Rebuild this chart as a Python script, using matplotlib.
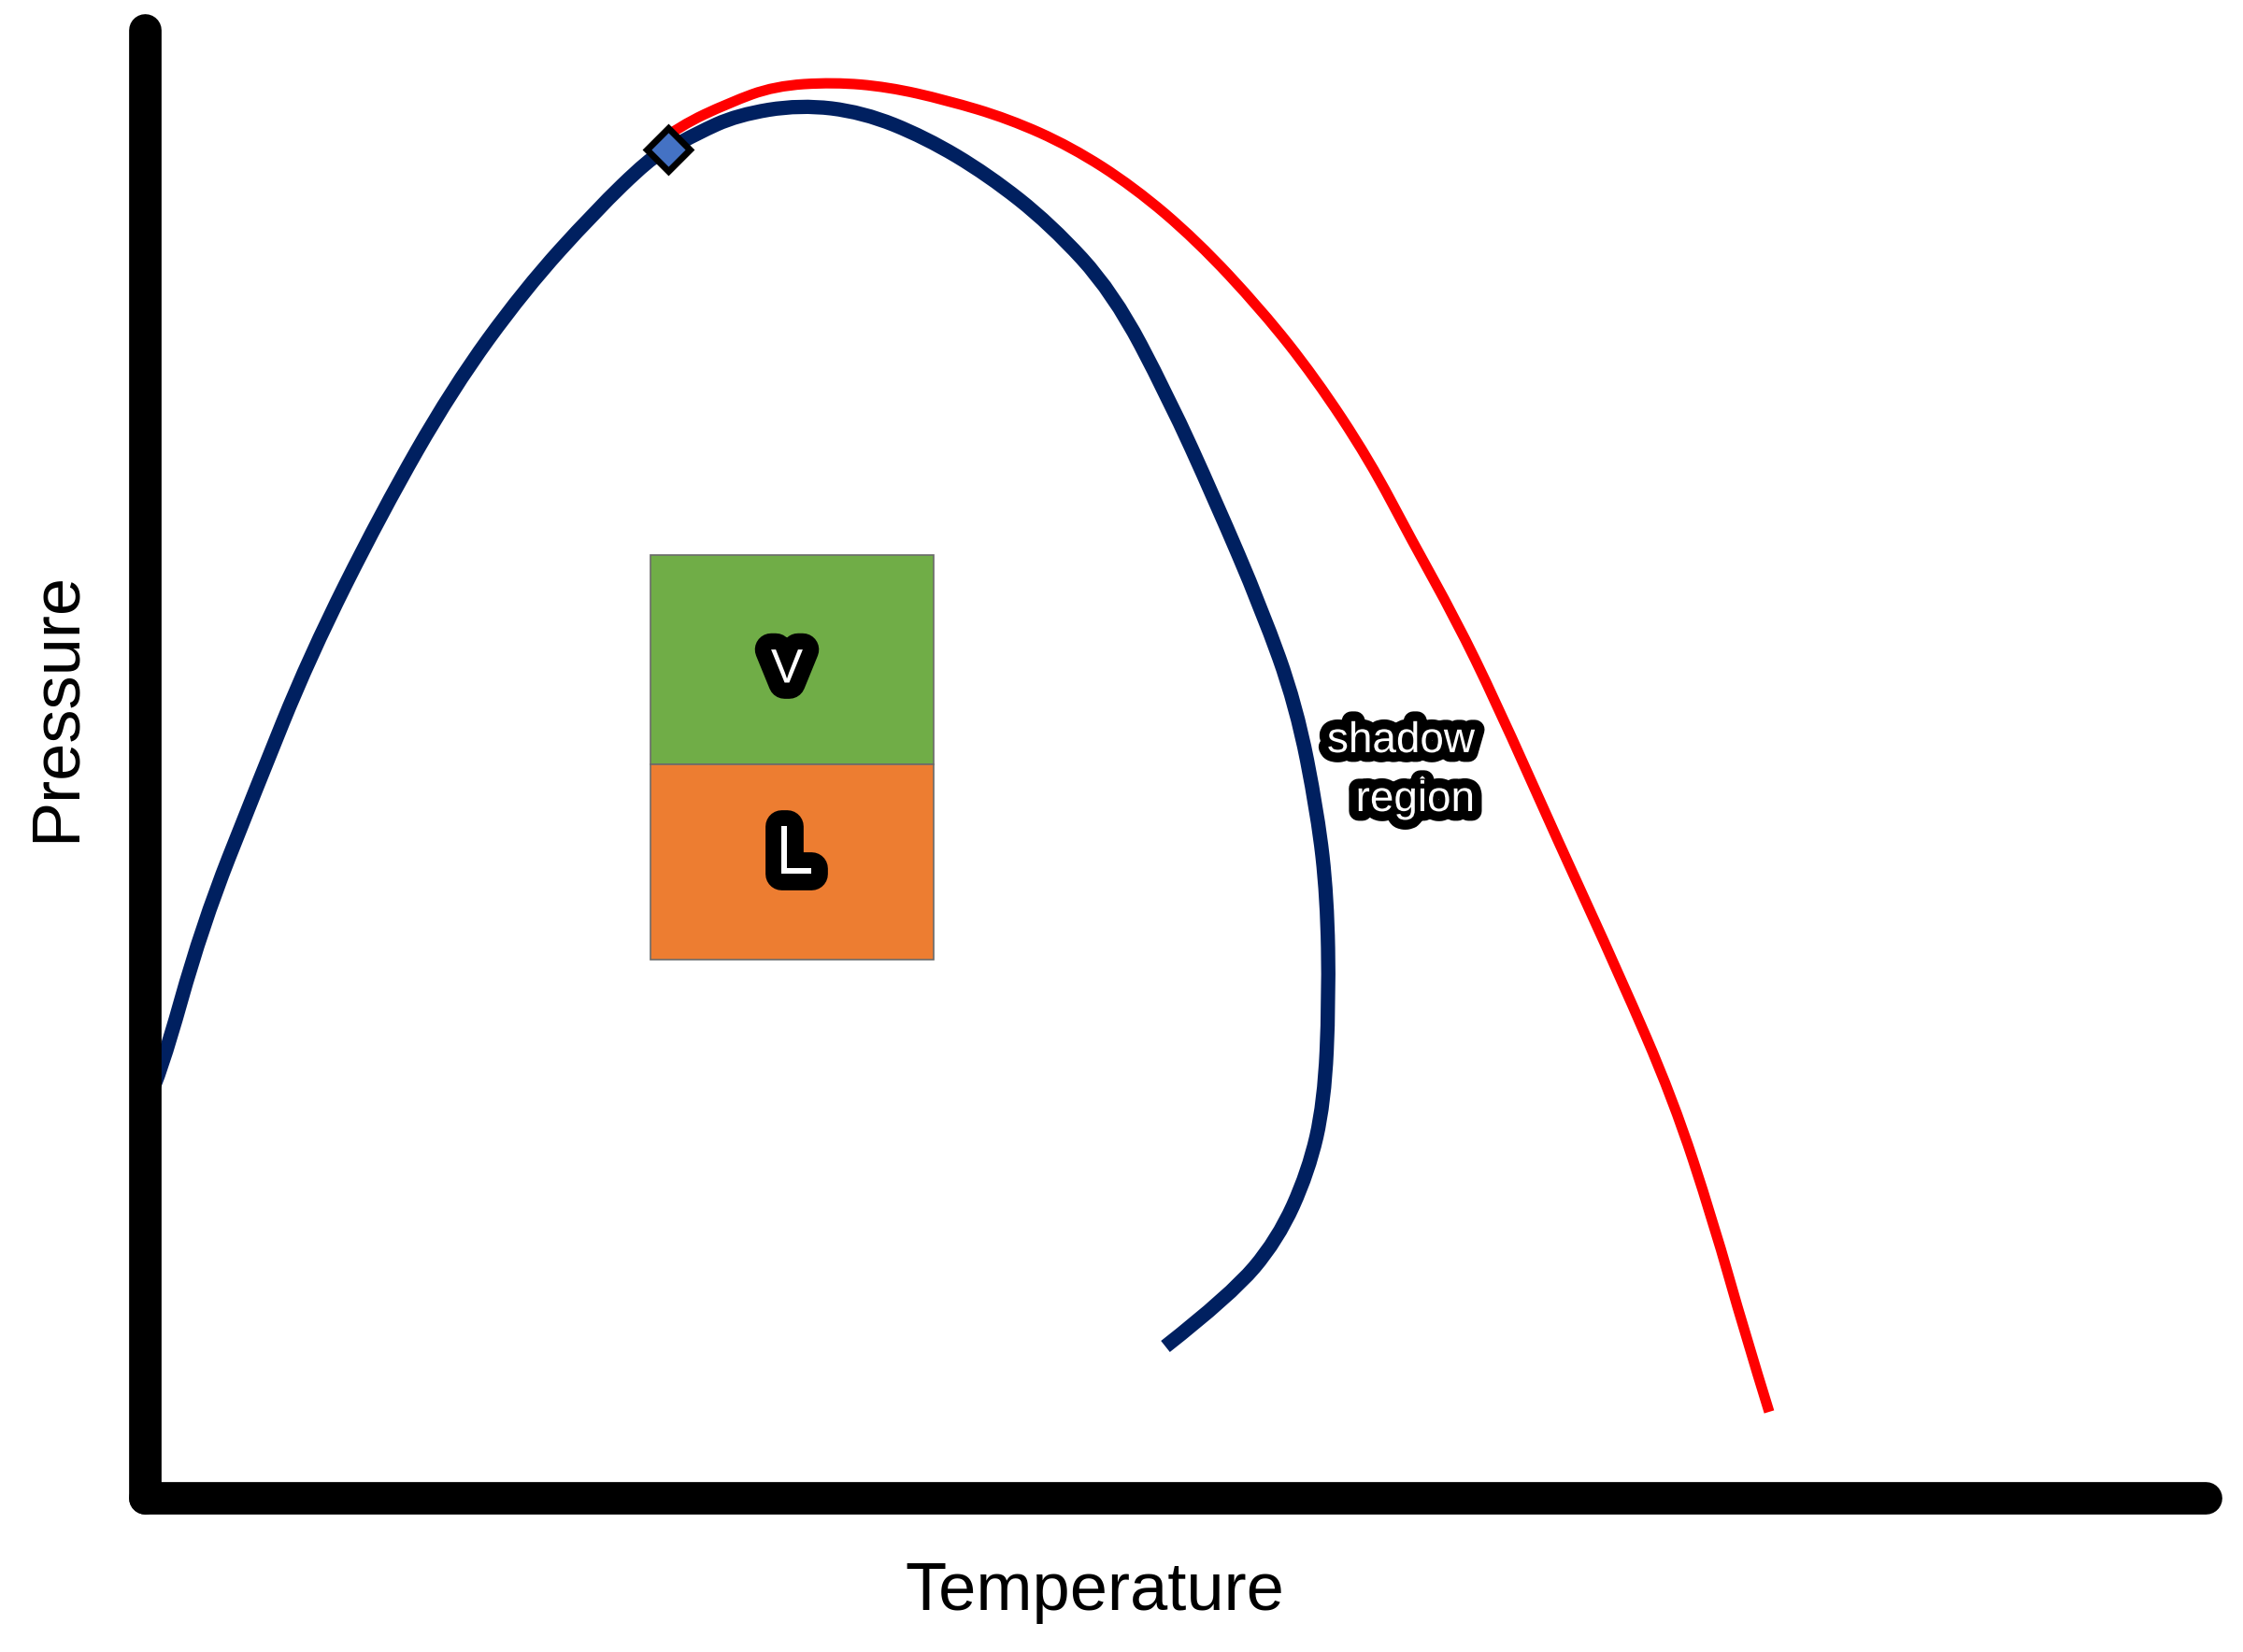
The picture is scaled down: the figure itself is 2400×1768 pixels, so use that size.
import matplotlib
matplotlib.use("Agg")
import matplotlib.pyplot as plt
import matplotlib.patheffects as pe
from matplotlib.path import Path
from matplotlib.patches import PathPatch

# Curves (temperature / pressure in arbitrary units,
# origin at the corner of the axes)
dew_T = [3, 16, 61, 119, 176, 253, 329, 406, 482, 540, 560, 590, 634, 701, 768,
         835, 902, 969, 1036, 1095, 1145, 1195, 1232, 1255, 1265, 1267,
         1262, 1245, 1212, 1162, 1092]
dew_P = [425, 451, 612, 759, 900, 1054, 1187, 1293, 1377, 1433, 1443, 1460, 1480,
         1491, 1483, 1456, 1416, 1363, 1290, 1178, 1068, 951, 848, 731, 643,
         533, 423, 349, 276, 217, 162]

shadow_T = [550, 572, 625, 674, 737, 795, 857, 924, 991, 1058, 1125, 1195, 1252,
            1310, 1356, 1402, 1445, 1512, 1578, 1635, 1678, 1712, 1738]
shadow_P = [1451, 1468, 1493, 1511, 1515, 1510, 1496, 1476, 1446, 1403, 1346, 1271,
            1199, 1111, 1024, 941, 853, 703, 559, 427, 296, 176, 92]

critical_T = [560]
critical_P = [1443]

# V / L phase box
phase_labels = ['V', 'L']
phase_colors = ['#70AD47', '#ED7D31']
phase_bottom = [785, 576]
phase_height = [224, 209]
box_left, box_right = 541, 844
label_T = [687, 695]
label_P = [886, 688]
label_size = [37, 53]

shadow_text = ['shadow', 'region']
shadow_text_P = [798, 735]


def smooth_path(xs, ys):
    # quadratic bezier through the midpoints, read points used as control points
    pts = list(zip(xs, ys))
    verts = [pts[0]]
    codes = [Path.MOVETO]
    n = len(pts)
    for i in range(1, n - 1):
        if i == n - 2:
            end = pts[-1]
        else:
            end = ((pts[i][0] + pts[i + 1][0]) / 2, (pts[i][1] + pts[i + 1][1]) / 2)
        verts += [pts[i], end]
        codes += [Path.CURVE3, Path.CURVE3]
    return Path(verts, codes)


plt.rcParams['font.family'] = ['Liberation Sans', 'DejaVu Sans']

fig = plt.figure(figsize=(24, 17.68), dpi=100)
ax = fig.add_axes([0, 0, 1, 1])
ax.set_xlim(-155, 2245)
ax.set_ylim(-165, 1603)

# axes drawn as heavy rounded black bars
for s in ['top', 'right']:
    ax.spines[s].set_visible(False)
ax.spines['left'].set_position(('data', 0))
ax.spines['bottom'].set_position(('data', 0))
ax.spines['left'].set_bounds(0, 1571)
ax.spines['bottom'].set_bounds(0, 2205)
for s in ['left', 'bottom']:
    ax.spines[s].set_linewidth(25)
    ax.spines[s].set_capstyle('round')
    ax.spines[s].set_zorder(5)
ax.set_xticks([])
ax.set_yticks([])

ax.add_patch(PathPatch(smooth_path(shadow_T, shadow_P), fill=False,
                       edgecolor='#FF0000', lw=8, capstyle='butt',
                       joinstyle='round', zorder=2))
ax.add_patch(PathPatch(smooth_path(dew_T, dew_P), fill=False,
                       edgecolor='#002060', lw=11, capstyle='butt',
                       joinstyle='round', zorder=3))
ax.plot(critical_T, critical_P, marker='D', ms=23.5, mfc='#4472C4', mec='black',
        mew=5, ls='none', zorder=4)

ax.bar([(box_left + box_right) / 2] * 2, phase_height, bottom=phase_bottom,
       width=box_right - box_left, color=phase_colors, edgecolor='#6b6b6b',
       linewidth=1.2, zorder=3)

for lab, t, p, fs in zip(phase_labels, label_T, label_P, label_size):
    ax.text(t, p, lab, fontsize=fs, color='white', ha='center', va='center', zorder=6,
            path_effects=[pe.Stroke(linewidth=25, foreground='black',
                                    joinstyle='round', capstyle='round'),
                          pe.Normal()])

for txt, p in zip(shadow_text, shadow_text_P):
    ax.text(1423, p, txt, fontsize=33, color='white', ha='right', va='baseline',
            zorder=6,
            path_effects=[pe.Stroke(linewidth=15, foreground='black',
                                    joinstyle='round', capstyle='round'),
                          pe.Normal()])

ax.text(1016, -120, 'Temperature', fontsize=52, ha='center', va='baseline')
ax.text(-75, 847, 'Pressure', fontsize=52, ha='center', va='baseline',
        rotation=90, rotation_mode='anchor')

fig.savefig('out.png', dpi=100, facecolor='white')
